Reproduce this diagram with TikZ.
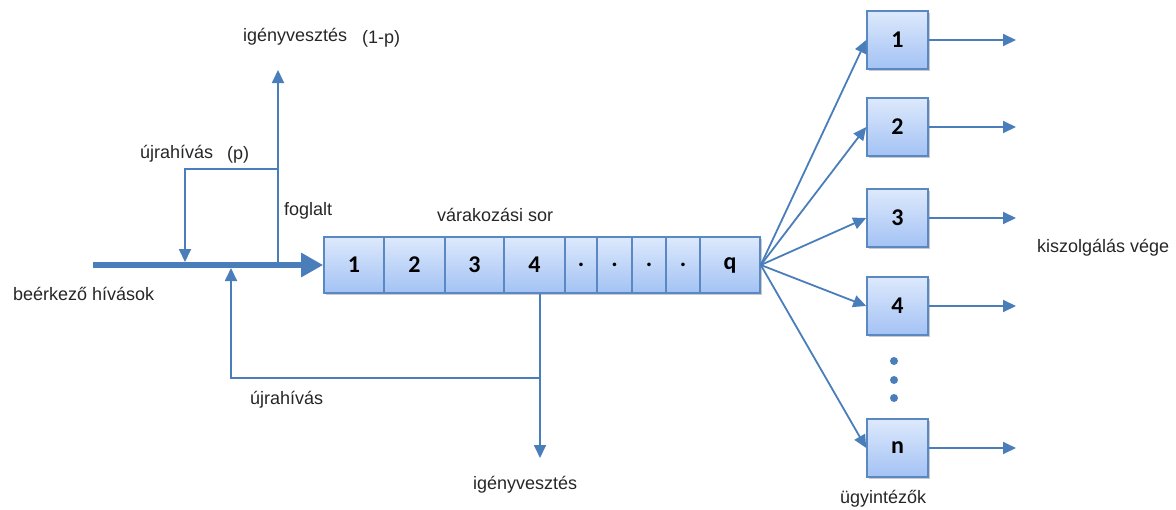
\documentclass[tikz,border=0pt]{standalone}
\usepackage{fontspec}
\setmainfont{Liberation Sans}
\newfontfamily\boxfont{Carlito}
\usetikzlibrary{arrows.meta,shadows}
\definecolor{lineblue}{HTML}{4A7EBB}
\definecolor{boxtop}{HTML}{DDE9FC}
\definecolor{boxbot}{HTML}{A3C2F4}
\definecolor{boxedge}{HTML}{5A88C2}
\tikzset{
  cell/.style={draw=boxedge, line width=1.6pt, top color=boxtop, bottom color=boxbot,
    inner sep=0pt, minimum height=56pt, font=\boxfont\bfseries\fontsize{24}{26}\selectfont,
    drop shadow={shadow xshift=1.5pt, shadow yshift=-2pt, opacity=0.35, fill=black!60}},
  srv/.style={cell, minimum width=61pt, minimum height=58pt},
  lbl/.style={inner sep=0pt, font=\fontsize{18}{20}\selectfont, text=black!85},
  flow/.style={draw=lineblue, line width=1.8pt, -{Triangle[length=13pt,width=12pt]}},
  plain/.style={draw=lineblue, line width=1.8pt},
  thick flow/.style={draw=lineblue, line width=6pt, -{Triangle[length=22pt,width=23pt]}},
  dotnode/.style={circle, fill=lineblue, inner sep=0pt, minimum size=8pt}
}
\begin{document}
\begin{tikzpicture}[x=1pt,y=-1pt]
\useasboundingbox (0,0) rectangle (1176,509);
% queue cells
\node[cell, minimum width=60pt] (c1) at (354,265) {1};
\node[cell, minimum width=61pt] (c2) at (414.5,265) {2};
\node[cell, minimum width=59pt] (c3) at (474.5,265) {3};
\node[cell, minimum width=61pt] (c4) at (534.5,265) {4};
\node[cell, minimum width=32pt] (c5) at (581,265) {.};
\node[cell, minimum width=35pt] (c6) at (614.5,265) {.};
\node[cell, minimum width=34pt] (c7) at (649,265) {.};
\node[cell, minimum width=34pt] (c8) at (683,265) {.};
\node[cell, minimum width=60pt] (cq) at (730,265) {q};
% servers
\node[srv] (s1) at (897.5,40) {1};
\node[srv] (s2) at (897.5,127) {2};
\node[srv] (s3) at (897.5,218) {3};
\node[srv] (s4) at (897.5,306) {4};
\node[srv] (sn) at (897.5,448) {n};
\node[dotnode] (d1) at (894,361) {};
\node[dotnode] (d2) at (894,380) {};
\node[dotnode] (d3) at (894,398) {};
% coordinates
\coordinate (in) at (93,265);
\coordinate (busy) at (278,265);
\coordinate (busytop) at (278,70);
\coordinate (br) at (278,169);
\coordinate (bl) at (185,169);
\coordinate (bldown) at (185,262);
\coordinate (j) at (540,378);
\coordinate (jl) at (231,378);
\coordinate (jup) at (231,268);
\coordinate (lossdown) at (540,458);
\coordinate (o1) at (1016,40);
\coordinate (o2) at (1016,127);
\coordinate (o3) at (1016,218);
\coordinate (o4) at (1016,306);
\coordinate (on) at (1016,448);
% connectors
\draw[thick flow] (in) -- (c1.west);
\draw[flow] (busy) -- (busytop);
\draw[flow] (br) -- (bl) -- (bldown);
\draw[plain] (c4.south -| j) -- (j);
\draw[flow] (j) -- (lossdown);
\draw[flow] (j) -- (jl) -- (jup);
\foreach \s in {s1,s2,s3,s4,sn}{
  \draw[flow] (cq.east) -- (\s.west);
}
\draw[flow] (s1.east) -- (o1);
\draw[flow] (s2.east) -- (o2);
\draw[flow] (s3.east) -- (o3);
\draw[flow] (s4.east) -- (o4);
\draw[flow] (sn.east) -- (on);
% labels
\node[lbl, anchor=base west] (t1) at (243,41) {igényvesztés};
\node[lbl, anchor=base west] (t2) at (362,43) {(1-p)};
\node[lbl, anchor=base west] (t3) at (140,158) {újrahívás};
\node[lbl, anchor=base west] (t4) at (227,159) {(p)};
\node[lbl, anchor=base west] (t5) at (284,215) {foglalt};
\node[lbl, anchor=base west] (t6) at (437,221) {várakozási sor};
\node[lbl, anchor=base west] (t7) at (13,300) {beérkező hívások};
\node[lbl, anchor=base west] (t8) at (250,404) {újrahívás};
\node[lbl, anchor=base west] (t9) at (473,489) {igényvesztés};
\node[lbl, anchor=base west] (t10) at (1037,252) {kiszolgálás vége};
\node[lbl, anchor=base west] (t11) at (840,503) {ügyintézők};
\end{tikzpicture}
\end{document}
